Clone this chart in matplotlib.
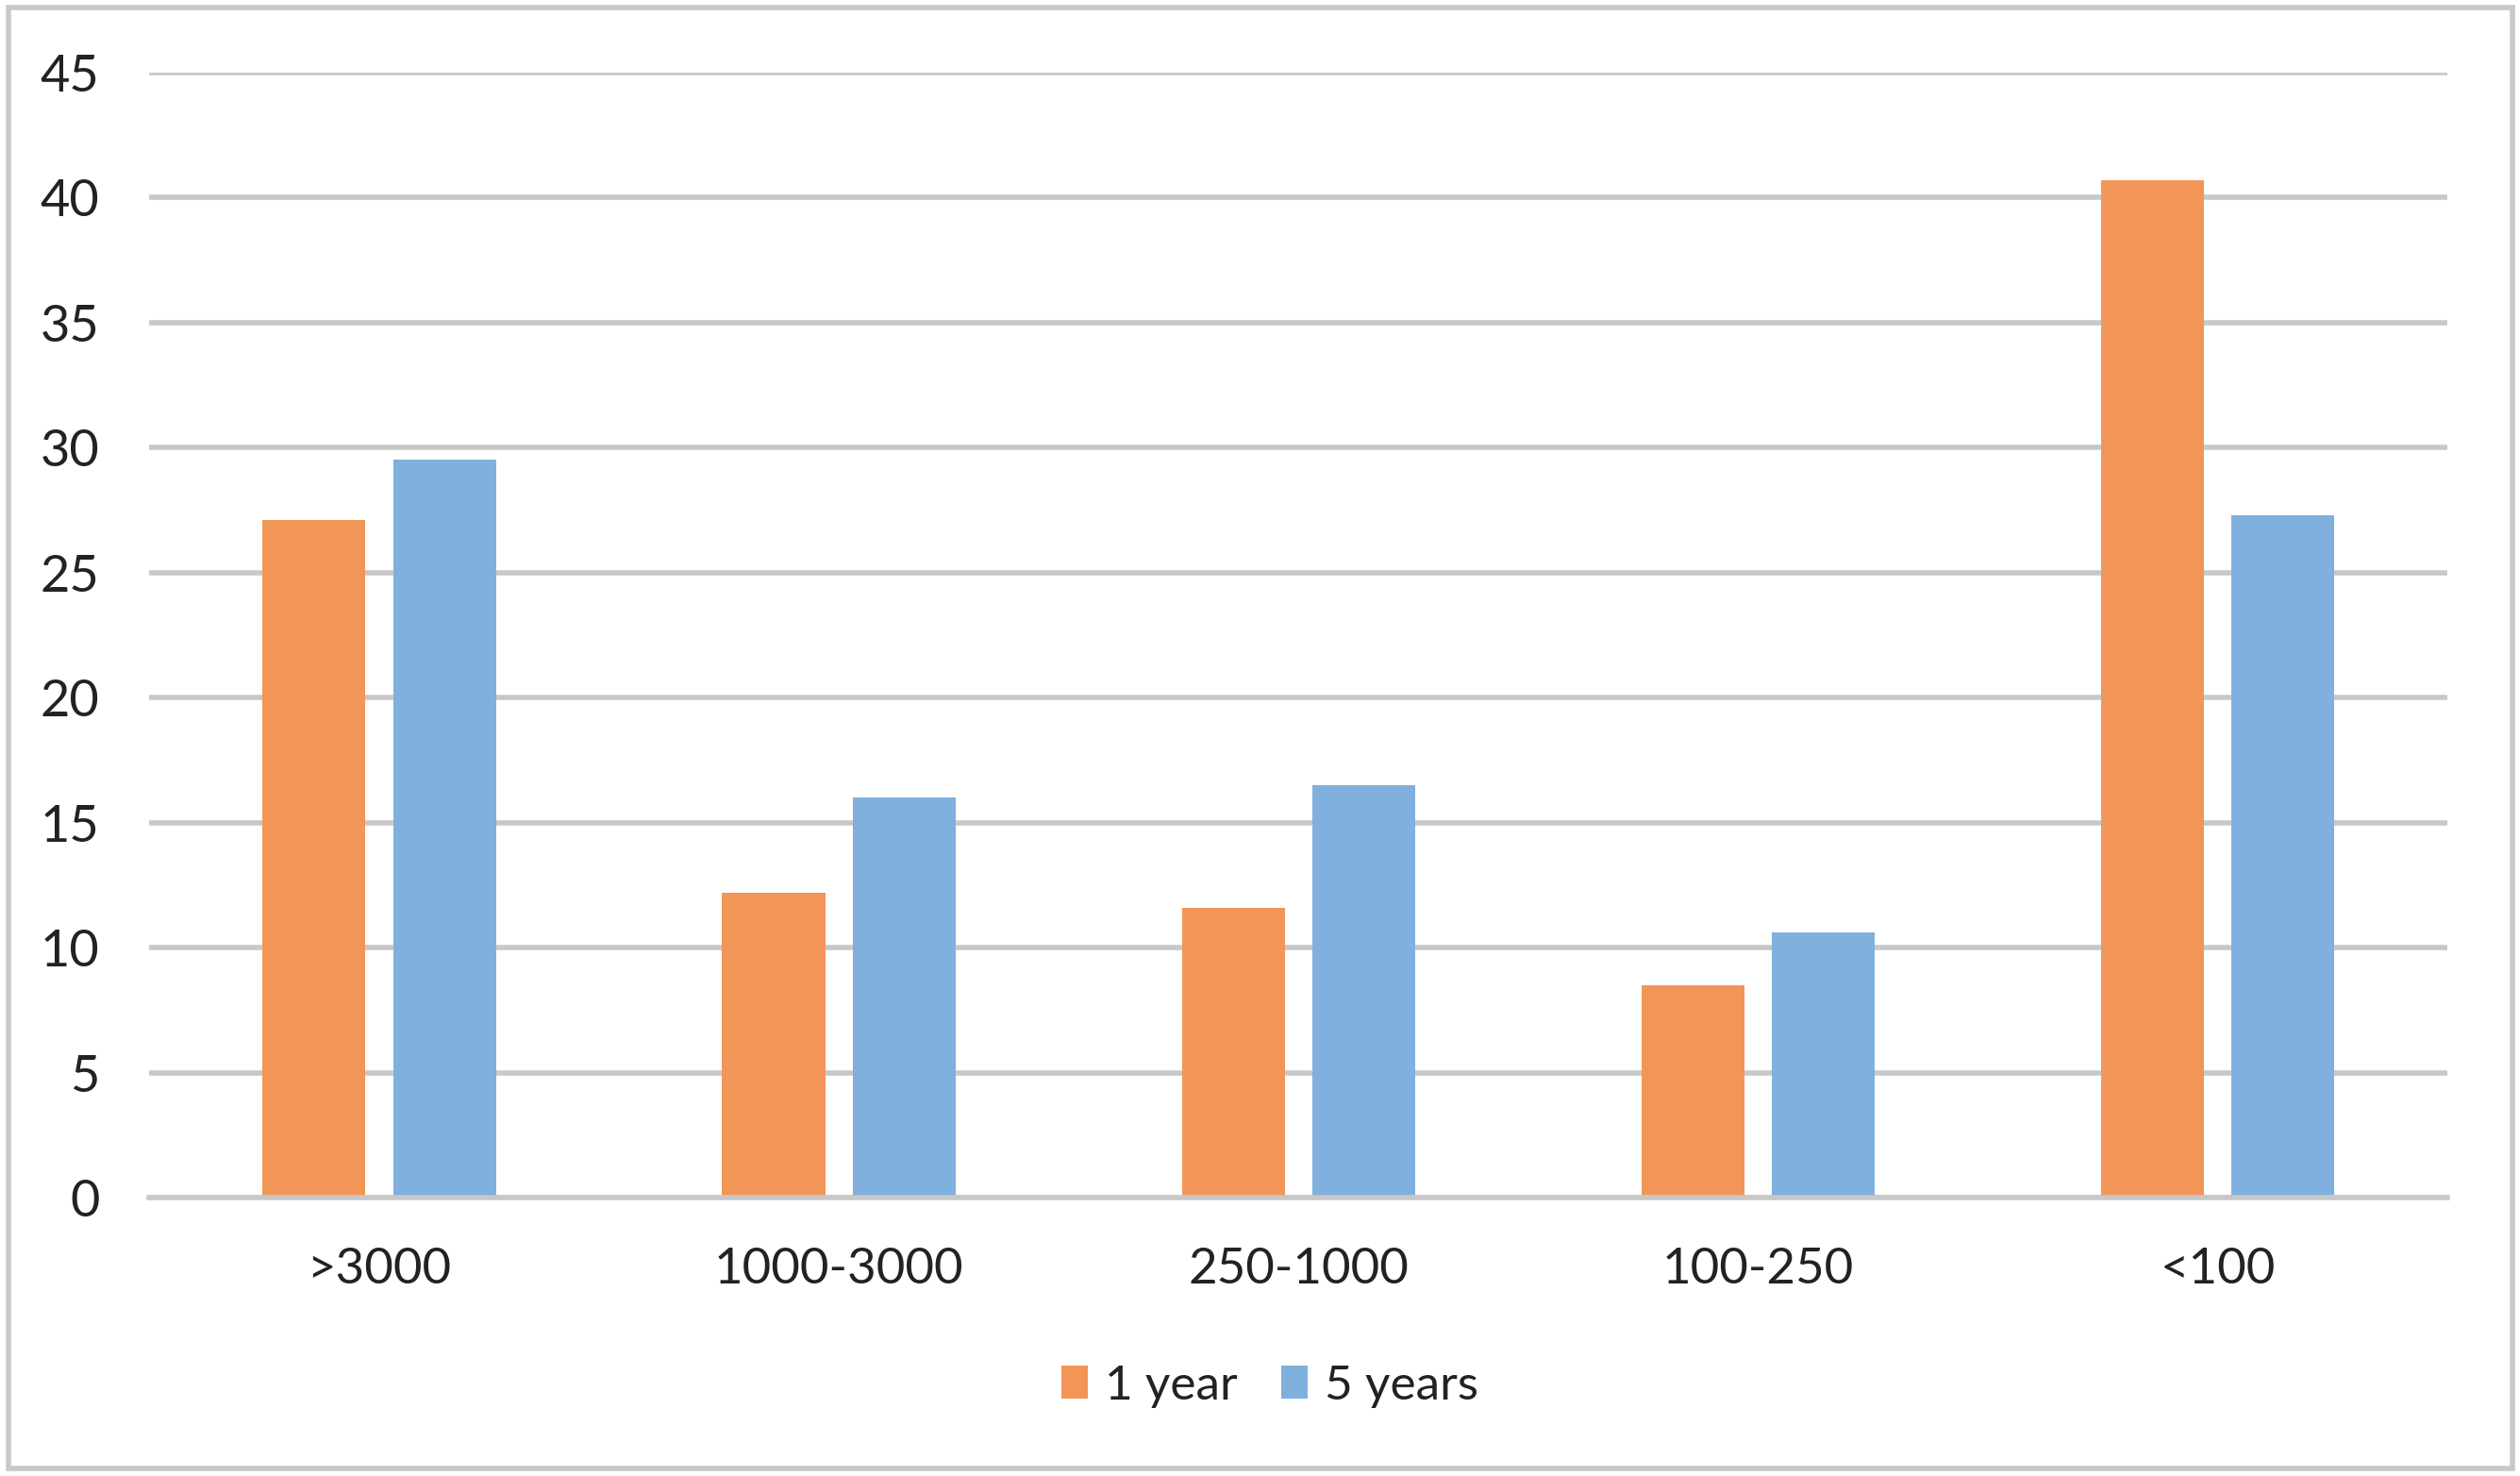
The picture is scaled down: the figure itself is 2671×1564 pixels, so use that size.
import numpy as np
import matplotlib.pyplot as plt
from matplotlib.patches import Rectangle

categories = [">3000", "1000-3000", "250-1000", "100-250", "<100"]
one_year = [27.1, 12.2, 11.6, 8.5, 40.7]
five_years = [29.5, 16.0, 16.5, 10.6, 27.3]
series_names = ["1 year", "5 years"]
yticks = [0, 5, 10, 15, 20, 25, 30, 35, 40, 45]

orange = "#F29658"
blue = "#7FB0DE"
grid_col = "#C8C8C8"
text_col = "#222222"

plt.rcParams['font.family'] = ['Lato', 'DejaVu Sans']

fig = plt.figure(figsize=(13.355, 7.82), dpi=200)
ax = fig.add_axes([0.0593, 0.1885, 0.912, 0.7625])

x = np.arange(len(categories))
w = 0.224
off = 0.142
ax.bar(x - off, one_year, w, color=orange, label=series_names[0], zorder=3)
ax.bar(x + off, five_years, w, color=blue, label=series_names[1], zorder=3)

ax.set_xlim(-0.5, len(categories) - 0.5)
ax.set_ylim(0, 45)
ax.set_yticks(yticks)
ax.set_xticks(x)
ax.set_xticklabels(categories, fontsize=19, color=text_col)
ax.tick_params(axis='y', labelsize=19.5, colors=text_col, length=0, pad=19)
ax.tick_params(axis='x', length=0, pad=19)
ax.yaxis.grid(True, color=grid_col, linewidth=2.0, zorder=0)
ax.set_axisbelow(True)
for s in ['top', 'right', 'left']:
    ax.spines[s].set_visible(False)
ax.spines['bottom'].set_color(grid_col)
ax.spines['bottom'].set_linewidth(2.0)
ax.spines['bottom'].set_zorder(4)

leg = fig.legend(loc='center', bbox_to_anchor=(0.504, 0.061), ncol=2, frameon=False,
                 fontsize=18.5, handlelength=0.55, handleheight=0.65, handletextpad=0.35,
                 columnspacing=0.9)
for t in leg.get_texts():
    t.set_color(text_col)

fig.patches.append(Rectangle((0.0035, 0.005), 0.9935, 0.99, transform=fig.transFigure,
                             fill=False, edgecolor=grid_col, linewidth=2.0))

fig.savefig("out.png", dpi=200, facecolor="white")
